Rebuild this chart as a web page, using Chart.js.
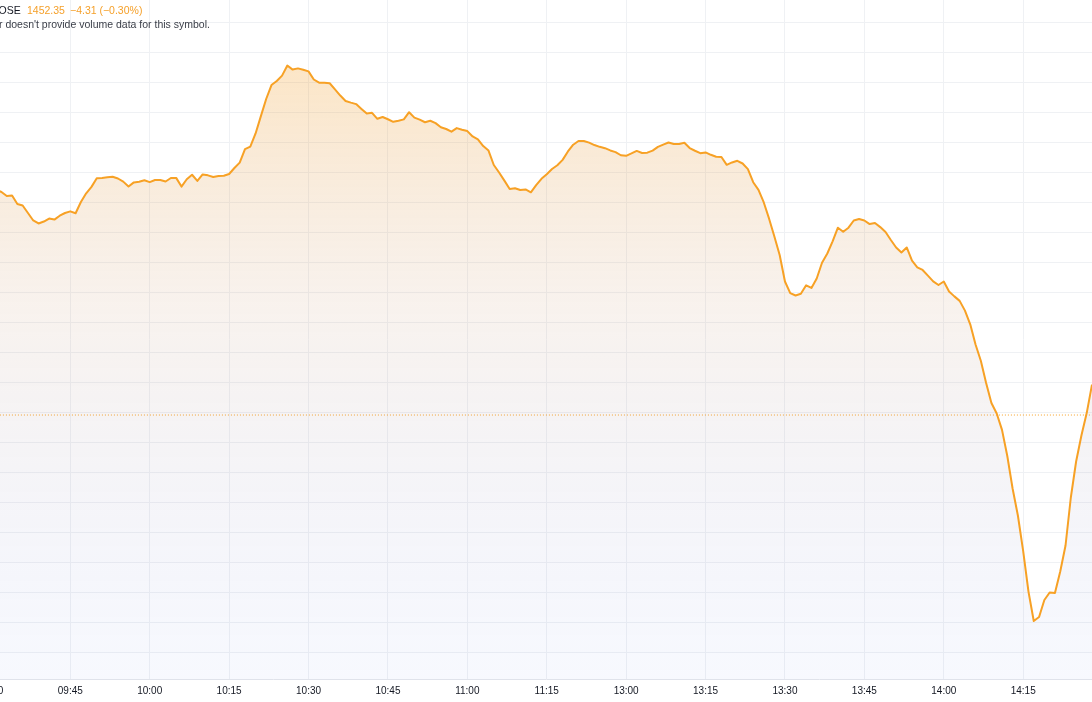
<!DOCTYPE html>
<html>
<head>
<meta charset="utf-8">
<script src="https://cdn.jsdelivr.net/npm/chart.js@4.4.0/dist/chart.umd.min.js"></script>
<style>
  html, body { margin: 0; padding: 0; background: #fff; }
  #wrap { position: relative; width: 1092px; height: 702px; overflow: hidden; }
  #legend { position: absolute; left: 0; top: 0; font-family: "Liberation Sans", Arial, sans-serif; font-size: 10.5px; color: #131722; }
  #legend span { position: absolute; white-space: nowrap; }
  .orange { color: #f5a02a; }
</style>
</head>
<body>
<div id="wrap">
  <canvas id="priceChart"></canvas>
  <div id="legend">
    <span style="left:-9px; top:4px;">HOSE</span>
    <span class="orange" style="left:27px; top:4px;">1452.35</span>
    <span class="orange" style="left:70px; top:4px;">&minus;4.31 (&minus;0.30%)</span>
    <span style="left:-1px; top:18px; color:#3a3e48;">r doesn't provide volume data for this symbol.</span>
  </div>
</div>
<script>
// HOSE intraday, 1-minute closes (index = trading minutes after 09:30, lunch break removed)
const firstMinute = 1;
const closes = [
  1471.66, 1471.53, 1471.26, 1471.29, 1470.73, 1470.63, 1470.13, 1469.63, 1469.43, 1469.56,
  1469.76, 1469.69, 1469.95, 1470.13, 1470.24, 1470.11, 1470.86, 1471.44, 1471.87, 1472.44,
  1472.47, 1472.51, 1472.55, 1472.43, 1472.22, 1471.89, 1472.17, 1472.21, 1472.31, 1472.19,
  1472.33, 1472.33, 1472.23, 1472.46, 1472.47, 1471.89, 1472.38, 1472.68, 1472.27, 1472.70,
  1472.64, 1472.53, 1472.60, 1472.61, 1472.73, 1473.13, 1473.49, 1474.39, 1474.56, 1475.43,
  1476.59, 1477.73, 1478.66, 1478.93, 1479.29, 1479.96, 1479.69, 1479.77, 1479.68, 1479.57,
  1479.03, 1478.82, 1478.81, 1478.78, 1478.37, 1477.96, 1477.60, 1477.49, 1477.39, 1477.07,
  1476.76, 1476.81, 1476.41, 1476.53, 1476.38, 1476.21, 1476.28, 1476.37, 1476.85, 1476.49,
  1476.35, 1476.18, 1476.28, 1476.12, 1475.85, 1475.73, 1475.55, 1475.79, 1475.68, 1475.59,
  1475.23, 1475.04, 1474.59, 1474.29, 1473.33, 1472.83, 1472.29, 1471.73, 1471.78, 1471.66,
  1471.70, 1471.51, 1471.99, 1472.41, 1472.71, 1473.06, 1473.31, 1473.67, 1474.23, 1474.68,
  1474.93, 1474.93, 1474.82, 1474.66, 1474.54, 1474.45, 1474.30, 1474.19, 1473.98, 1473.94,
  1474.10, 1474.27, 1474.13, 1474.15, 1474.29, 1474.54, 1474.69, 1474.83, 1474.73, 1474.73,
  1474.81, 1474.46, 1474.28, 1474.12, 1474.17, 1474.01, 1473.88, 1473.86, 1473.34, 1473.50,
  1473.61, 1473.43, 1473.05, 1472.18, 1471.67, 1470.83, 1469.75, 1468.56, 1467.33, 1465.56,
  1464.79, 1464.63, 1464.74, 1465.31, 1465.13, 1465.76, 1466.81, 1467.43, 1468.24, 1469.15,
  1468.88, 1469.15, 1469.63, 1469.73, 1469.63, 1469.39, 1469.46, 1469.19, 1468.86, 1468.33,
  1467.83, 1467.50, 1467.83, 1466.95, 1466.51, 1466.33, 1465.95, 1465.57, 1465.33, 1465.56,
  1464.89, 1464.57, 1464.27, 1463.62, 1462.71, 1461.36, 1460.28, 1458.79, 1457.46, 1456.76,
  1455.67, 1453.93, 1451.76, 1449.96, 1447.59, 1444.89, 1442.93, 1443.19, 1444.33, 1444.83,
  1444.79, 1446.23, 1447.96, 1451.16, 1453.56, 1455.29, 1456.79, 1458.69
];
const prevClose = 1456.66;

const tickMinutes = [0, 15, 30, 45, 60, 75, 90, 105, 120, 135, 150, 165, 180, 195];
const tickLabels = ['09:30', '09:45', '10:00', '10:15', '10:30', '10:45', '11:00', '11:15',
                    '13:00', '13:15', '13:30', '13:45', '14:00', '14:15'];
const priceGrid = [1440.8, 1442.8, 1444.8, 1446.8, 1448.8, 1450.8, 1452.8, 1454.8, 1456.8,
                   1458.8, 1460.8, 1462.8, 1464.8, 1466.8, 1468.8, 1470.8, 1472.8, 1474.8,
                   1476.8, 1478.8, 1480.8, 1482.8];

// visible window (the screenshot is a crop of a wider chart)
const view = { xMin: 1.72, xMax: 208.0, yMin: 1439.06, yMax: 1484.33 };

document.addEventListener('DOMContentLoaded', () => {
    const canvas = document.getElementById('priceChart');
    canvas.width = 1092; canvas.height = 702;

    const points = closes.map((v, k) => ({ x: firstMinute + k, y: v }));
    const lastX = firstMinute + closes.length - 1;

    const areaFill = (context) => {
        const { ctx, chartArea } = context.chart;
        if (!chartArea) return 'rgba(255,152,0,0.1)';
        const g = ctx.createLinearGradient(0, chartArea.top, 0, chartArea.bottom);
        g.addColorStop(0, 'rgba(255, 152, 0, 0.28)');
        g.addColorStop(0.45, 'rgba(200, 150, 110, 0.12)');
        g.addColorStop(1, 'rgba(60, 100, 230, 0.04)');
        return g;
    };

    new Chart(canvas, {
        type: 'line',
        data: {
            datasets: [{
                label: 'HOSE',
                data: points,
                borderColor: '#f7a125',
                borderWidth: 2,
                borderJoinStyle: 'round',
                backgroundColor: areaFill,
                fill: 'start',
                tension: 0,
                pointRadius: 0,
                order: 1
            }, {
                label: 'Prev close',
                data: [{ x: 0, y: prevClose }, { x: lastX + 2, y: prevClose }],
                borderColor: '#f7a125',
                borderWidth: 1,
                borderDash: [1, 2],
                fill: false,
                pointRadius: 0,
                order: 2
            }]
        },
        options: {
            responsive: false,
            animation: false,
            layout: { padding: 0 },
            plugins: { legend: { display: false }, tooltip: { enabled: false } },
            scales: {
                x: {
                    type: 'linear',
                    min: view.xMin,
                    max: view.xMax,
                    border: { display: true, color: '#e0e3eb' },
                    grid: { color: '#eff1f4', drawTicks: false },
                    afterBuildTicks: (scale) => { scale.ticks = tickMinutes.map(v => ({ value: v })); },
                    afterFit: (scale) => { scale.paddingLeft = 0; scale.paddingRight = 0; scale.height = 23; },
                    ticks: {
                        autoSkip: false,
                        maxRotation: 0,
                        padding: 6,
                        color: '#131722',
                        font: { family: '"Liberation Sans", Arial, sans-serif', size: 10 },
                        callback: (value) => {
                            const k = tickMinutes.indexOf(value);
                            return k >= 0 ? tickLabels[k] : '';
                        }
                    }
                },
                y: {
                    position: 'right',
                    min: view.yMin,
                    max: view.yMax,
                    border: { display: false },
                    grid: { color: '#eff1f4', drawTicks: false },
                    afterBuildTicks: (scale) => { scale.ticks = priceGrid.map(v => ({ value: v })); },
                    afterFit: (scale) => { scale.width = 0; },
                    ticks: { display: false }
                }
            }
        }
    });
});
</script>
</body>
</html>
